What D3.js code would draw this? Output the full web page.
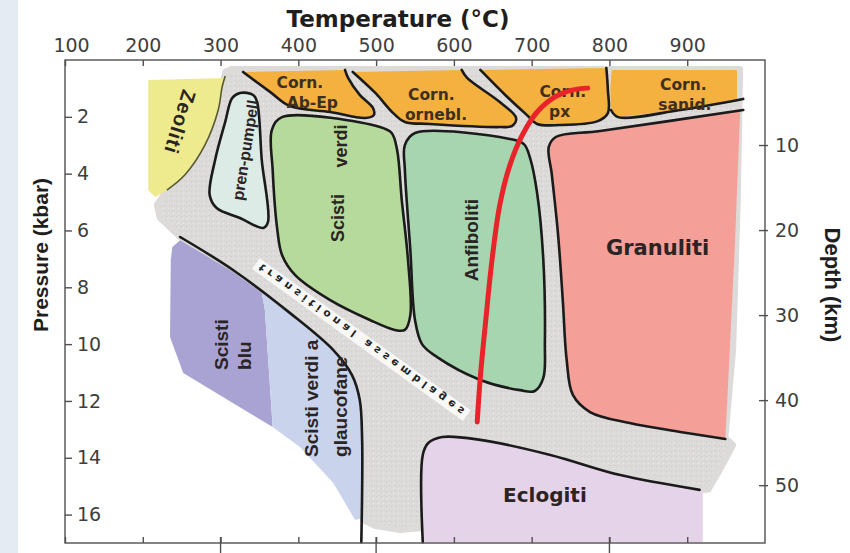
<!DOCTYPE html>
<html>
<head>
<meta charset="utf-8">
<script src="https://cdn.jsdelivr.net/npm/d3@7"></script>
<style>
body { margin: 0; background: #fff; }
svg { display: block; }
</style>
</head>
<body>
<svg width="850" height="553"></svg>
<script>
// all shapes in [temperature °C, pressure kbar]
const tTicks = [100, 200, 300, 400, 500, 600, 700, 800, 900];
const pTicks = [2, 4, 6, 8, 10, 12, 14, 16];
const dTicks = [10, 20, 30, 40, 50];
const longTicks = [300, 500, 800];

const grayBand = [[306,0.42],[314,0.32],[968,0.32],[965,4.93],[959,10.21],[949,13.30],[959,13.55],[942,14.43],[927,15.13],[916,15.13],[788,14.33],[659,13.55],[589,13.27],[569,13.37],[560,13.73],[560,16.47],[531,16.54],[499,16.40],[483,16.19],[482,13.37],[479,11.97],[469,11.09],[445,10.21],[389,8.90],[316,7.39],[248,6.23],[222,5.56],[218,5.10],[229,4.65],[254,4.05],[280,2.99],[297,1.76],[302,0.88]];
const zeolitiFill = [[207,0.70],[306,0.63],[302,0.88],[297,1.76],[280,2.99],[254,4.05],[231,4.58],[216,4.82],[207,4.58]];
const zeolitiLine = [[306,0.56],[302,0.95],[297,1.76],[280,2.99],[254,4.05],[231,4.58]];
const prenPumpell = [[325,1.16],[342,1.23],[347,1.48],[353,3.52],[361,5.70],[355,5.91],[325,5.56],[295,5.21],[286,4.75],[293,3.52],[306,2.18],[315,1.34]];
const scistiVerdi = [[379,2.01],[505,2.36],[520,2.57],[527,3.17],[533,4.93],[541,7.04],[544,8.98],[537,9.50],[524,9.50],[492,9.15],[441,8.45],[396,7.57],[379,6.86],[373,5.98],[367,3.87],[366,2.46]];
const anfiboliti = [[550,2.57],[672,2.78],[690,2.96],[698,3.45],[707,4.68],[715,7.04],[717,9.96],[715,11.19],[704,11.65],[685,11.62],[634,11.26],[578,10.45],[559,10.0],[550,9.15],[544,6.69],[537,3.87],[537,2.99]];
const abEp = [[329,0.42],[364,1.13],[389,1.62],[441,1.83],[486,2.04],[497,1.94],[496,1.69],[479,1.23],[464,0.63],[460,0.35]];
const ornebl = [[470,0.42],[499,1.16],[522,1.87],[537,2.18],[569,2.25],[659,2.36],[675,2.32],[680,2.04],[659,1.48],[617,0.63],[610,0.35]];
const px = [[634,0.35],[666,1.23],[694,1.94],[707,2.25],[736,2.29],[785,2.15],[798,1.87],[798,1.06],[796,0.28]];
const sanidFill = [[803,0.35],[964,0.35],[964,1.45],[891,1.76],[811,2.01],[802,1.76],[801,1.0]];
const sanidLine = [[802,1.76],[811,2.01],[891,1.76],[972,1.37]];
const granLine = [[972,1.76],[788,2.50],[731,2.71],[722,3.06],[726,4.05],[734,6.16],[740,8.45],[745,10.56],[753,11.79],[775,12.39],[826,12.78],[891,13.09],[949,13.34]];
const granEdge = [[961,6.69],[968,1.83]];
const eclLine = [[560,16.97],[560,13.90],[567,13.48],[585,13.27],[634,13.37],[724,13.90],[814,14.61],[916,15.13]];
const eclEdge = [[920,15.13],[920,16.97]];
const scistiBlu = [[238,6.58],[248,6.34],[316,7.46],[353,8.20],[357,8.80],[367,12.92],[252,11.02],[235,9.75],[236,7.04]];
const glaucofane = [[353,8.20],[389,8.90],[445,10.21],[469,11.09],[479,11.97],[482,13.37],[482,16.12],[473,16.19],[445,14.89],[402,13.62],[367,12.92],[357,8.80]];
const blueLine = [[248,6.23],[316,7.39],[389,8.90],[445,10.21],[469,11.09],[479,11.97],[482,13.37],[482,15.2],[481,16.97]];
const geotherm = [[630,12.74],[634,11.16],[641,9.15],[649,7.04],[659,5.10],[672,3.70],[688,2.64],[707,1.83],[730,1.30],[752,1.06],[772,0.99]];

const faciesNames = ["Zeoliti", "pren-pumpell", "Scisti", "verdi", "Anfiboliti", "Granuliti", "Eclogiti", "Scisti", "blu", "Scisti verdi a", "glaucofane"];
const hornNames = [["Corn.", "Ab-Ep"], ["Corn.", "ornebl."], ["Corn.", "px"], ["Corn.", "sanid."]];
const bandText = "transitional assemblages";

const sv = d3.select("svg");
const x = d3.scaleLinear().domain([100, 1000]).range([65, 765]);
const y = d3.scaleLinear().domain([0, 17]).range([60, 543]);
const yd = d3.scaleLinear().domain([0, 56.8]).range([60, 543]);

function curve(pts) { return d3.line().x(d => x(d[0])).y(d => y(d[1])).curve(d3.curveCatmullRom.alpha(0.5))(pts); }
function closedCurve(pts) { return d3.line().x(d => x(d[0])).y(d => y(d[1])).curve(d3.curveCatmullRomClosed.alpha(0.5))(pts); }
function poly(pts) { return d3.line().x(d => x(d[0])).y(d => y(d[1])).curve(d3.curveLinearClosed)(pts); }
function openShape(pts, extra) {
    return curve(pts) + (extra || []).map(p => "L" + x(p[0]) + "," + y(p[1])).join("") + "Z";
}

// slide strip
sv.append("rect").attr("x", 0).attr("y", 0).attr("width", 18).attr("height", 553).attr("fill", "#e5ebf2");

// stipple
const pat = sv.append("defs").append("pattern").attr("id", "stip")
    .attr("width", 5).attr("height", 5).attr("patternUnits", "userSpaceOnUse");
pat.append("rect").attr("width", 5).attr("height", 5).attr("fill", "#dddbd9");
pat.append("rect").attr("x", 1).attr("y", 1).attr("width", 1).attr("height", 1).attr("fill", "#cdcac8");
pat.append("rect").attr("x", 3).attr("y", 3).attr("width", 1).attr("height", 1).attr("fill", "#e9e8e7");
pat.append("rect").attr("x", 4).attr("y", 0).attr("width", 1).attr("height", 1).attr("fill", "#d3d1cf");

const g = sv.append("g");
g.append("path").attr("d", poly(grayBand)).attr("fill", "url(#stip)")
    .attr("stroke", "#dddbd9").attr("stroke-width", 6).attr("stroke-linejoin", "round");

// fills
g.append("path").attr("d", poly(zeolitiFill)).attr("fill", "#edeb8d");
g.append("path").attr("d", openShape(abEp)).attr("fill", "#f4b140");
g.append("path").attr("d", openShape(ornebl)).attr("fill", "#f4b140");
g.append("path").attr("d", openShape(px)).attr("fill", "#f4b140");
g.append("path").attr("d", poly(sanidFill)).attr("fill", "#f4b140");
g.append("path").attr("d", openShape(granLine, granEdge)).attr("fill", "#f49f97");
g.append("path").attr("d", openShape(eclLine, eclEdge)).attr("fill", "#e5d3ea");
g.append("path").attr("d", poly(scistiBlu)).attr("fill", "#a9a3d3");
g.append("path").attr("d", poly(glaucofane)).attr("fill", "#c9d4ec");

// closed facies with outline
[[prenPumpell, "#dcebe5"], [scistiVerdi, "#b6da9c"], [anfiboliti, "#a6d5b0"]].forEach(function (a) {
    g.append("path").attr("d", closedCurve(a[0]))
        .attr("fill", a[1]).attr("stroke", "#1b1b1b").attr("stroke-width", 2.6);
});

// boundary lines
[abEp, ornebl, px, sanidLine, granLine, eclLine, blueLine].forEach(function (p) {
    g.append("path").attr("d", curve(p)).attr("fill", "none")
        .attr("stroke", "#1b1b1b").attr("stroke-width", 2.6).attr("stroke-linecap", "round");
});
g.append("path").attr("d", curve(zeolitiLine)).attr("fill", "none")
    .attr("stroke", "#5b5a2e").attr("stroke-width", 1.6);

// facies labels: T, P, rotation, size, anchor, baseline, family
const labLayout = [
    [248, 2.18, 107, 20, "middle", "central", "Liberation Sans"],
    [332, 3.17, -81, 16, "middle", "central", "Liberation Sans"],
    [451, 5.56, -90, 18, "middle", "central", "Liberation Sans"],
    [455, 3.03, -90, 18, "middle", "central", "Liberation Sans"],
    [622, 6.34, -90, 19, "middle", "central", "Liberation Sans"],
    [862, 6.62, 0, 21, "middle", "central", "DejaVu Sans"],
    [717, 15.31, 0, 20, "middle", "central", "DejaVu Sans"],
    [310, 10.91, -90, 19, "start", "auto", "Liberation Sans"],
    [339, 10.91, -90, 19, "start", "auto", "Liberation Sans"],
    [425, 13.97, -90, 19, "start", "auto", "Liberation Sans"],
    [463, 13.97, -90, 19, "start", "auto", "Liberation Sans"]
];
g.selectAll("text.fac").data(faciesNames).enter().append("text").attr("class", "fac")
    .attr("transform", (d, i) => `translate(${x(labLayout[i][0])},${y(labLayout[i][1])}) rotate(${labLayout[i][2]})`)
    .attr("font-size", (d, i) => labLayout[i][3])
    .attr("text-anchor", (d, i) => labLayout[i][4])
    .attr("dominant-baseline", (d, i) => labLayout[i][5])
    .attr("font-family", (d, i) => labLayout[i][6])
    .attr("font-weight", "bold").attr("fill", "#2b2424")
    .attr("letter-spacing", (d, i) => i === 0 ? 1 : 0)
    .text(d => d);

// hornfels labels: centre T, baseline P for each line
const hornLayout = [[[402, 0.99], [418, 1.69]], [[571, 1.41], [577, 2.11]], [[740, 1.30], [736, 2.01]], [[895, 1.06], [897, 1.76]]];
hornNames.forEach(function (pair, i) {
    pair.forEach(function (t, j) {
        g.append("text").attr("x", x(hornLayout[i][j][0])).attr("y", y(hornLayout[i][j][1]))
            .attr("text-anchor", "middle").attr("font-family", "DejaVu Sans").attr("font-weight", "bold")
            .attr("font-size", 15.5).attr("fill", "#3f2f1c")
            .text(t);
    });
});

// flipped band text
const bt = g.append("g").attr("transform", `translate(${x(481)},${y(9.84)}) rotate(35.8) scale(1,-1)`);
bt.append("rect").attr("x", -130).attr("y", -6.5).attr("width", 260).attr("height", 13).attr("fill", "#fbfbfa").attr("opacity", 0.9);
bt.append("text").attr("text-anchor", "middle").attr("dominant-baseline", "central")
    .attr("font-family", "DejaVu Sans").attr("font-weight", "bold").attr("font-size", 10.5)
    .attr("fill", "#222").attr("textLength", 250).attr("lengthAdjust", "spacing")
    .text(bandText);

// geotherm
g.append("path").attr("d", curve(geotherm)).attr("fill", "none")
    .attr("stroke", "#e8232a").attr("stroke-width", 5).attr("stroke-linecap", "round");

// frame and axes
sv.append("rect").attr("x", x(100)).attr("y", y(0)).attr("width", x(1000) - x(100)).attr("height", y(17) - y(0))
    .attr("fill", "none").attr("stroke", "#505050").attr("stroke-width", 1.4);

function style(a) {
    a.select(".domain").remove();
    a.selectAll("line").attr("stroke", "#505050").attr("stroke-width", 1.4);
    a.selectAll("text").attr("font-family", "DejaVu Sans").attr("font-size", 19).attr("fill", "#3e3e3e");
}
const ta = sv.append("g").attr("transform", `translate(0,${y(0)})`)
    .call(d3.axisTop(x).tickValues(tTicks).tickSize(-6).tickPadding(8)).call(style);
ta.selectAll("text").filter(d => d === 100).attr("dx", 6);
sv.append("g").attr("transform", `translate(0,${y(17)})`)
    .call(d3.axisBottom(x).tickValues(tTicks).tickSize(-6).tickFormat("")).call(style);
sv.append("g").selectAll("line").data(longTicks).enter().append("line")
    .attr("x1", d => x(d)).attr("x2", d => x(d)).attr("y1", y(17) - 6).attr("y2", 553)
    .attr("stroke", "#505050").attr("stroke-width", 1.4);
sv.append("g").attr("transform", `translate(${x(100)},0)`)
    .call(d3.axisRight(y).tickValues(pTicks).tickSize(7).tickPadding(5)).call(style);
const ra = sv.append("g").attr("transform", `translate(${x(1000)},0)`)
    .call(d3.axisRight(yd).tickValues(dTicks).tickSize(3).tickPadding(7)).call(style);
ra.selectAll("line").attr("x1", -6);

// titles
sv.append("text").attr("x", 398).attr("y", 27).attr("text-anchor", "middle")
    .attr("font-family", "DejaVu Sans").attr("font-weight", "bold").attr("font-size", 23).attr("fill", "#1e1e1e")
    .text("Temperature (°C)");
sv.append("text").attr("transform", "translate(40,255) rotate(-90)").attr("text-anchor", "middle")
    .attr("dominant-baseline", "central")
    .attr("font-family", "Liberation Sans").attr("font-weight", "bold").attr("font-size", 21).attr("fill", "#1e1e1e")
    .text("Pressure (kbar)");
sv.append("text").attr("transform", "translate(832,285) rotate(90)").attr("text-anchor", "middle")
    .attr("dominant-baseline", "central")
    .attr("font-family", "Liberation Sans").attr("font-weight", "bold").attr("font-size", 22).attr("fill", "#1e1e1e")
    .text("Depth (km)");
</script>
</body>
</html>
